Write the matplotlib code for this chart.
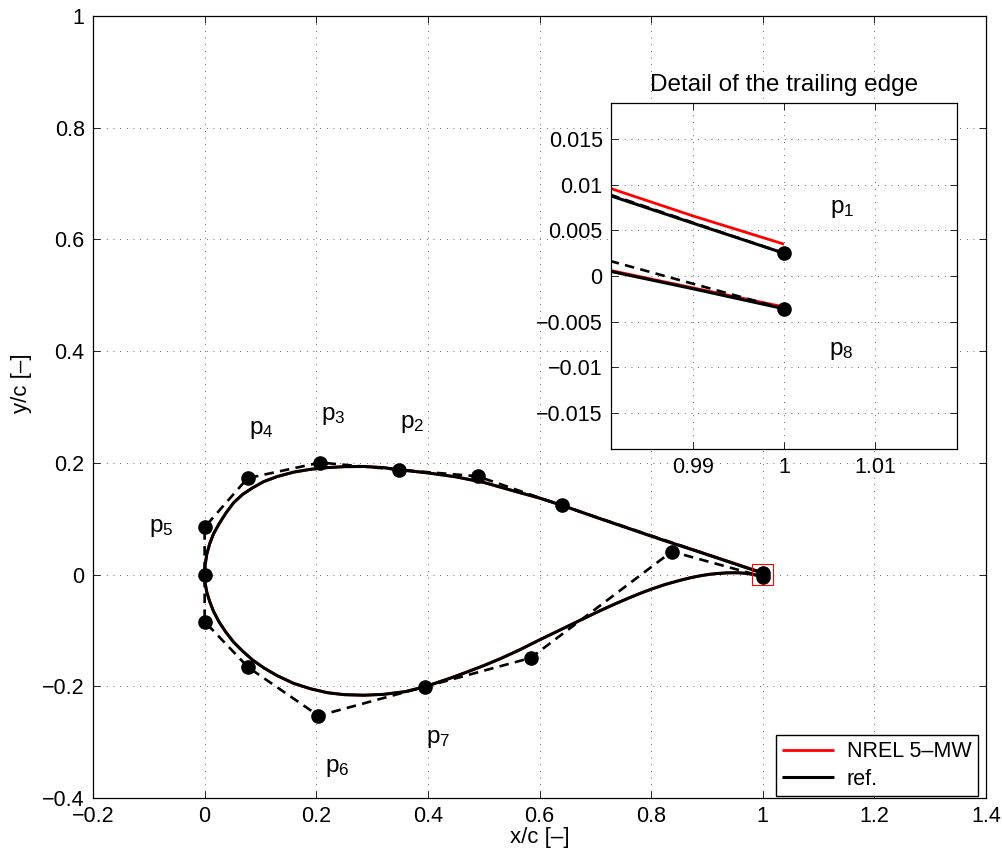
import matplotlib
matplotlib.use("Agg")
import matplotlib.pyplot as plt
from matplotlib.patches import Rectangle
from matplotlib.ticker import FuncFormatter

plt.rcParams['font.family'] = ['Liberation Sans', 'DejaVu Sans']
plt.rcParams['mathtext.default'] = 'regular'

# Upper surface, leading edge -> trailing edge
up_x = [0.0, 0.001, 0.004, 0.009, 0.016, 0.026, 0.038, 0.052, 0.068, 0.086,
        0.106, 0.13, 0.16, 0.19, 0.22, 0.25, 0.285, 0.32, 0.349, 0.40,
        0.45, 0.50, 0.56, 0.60, 0.641, 0.70, 0.76, 0.82, 0.88, 0.93,
        0.96, 0.981, 0.99, 1.0]
ref_up_y = [0.0, 0.018, 0.037, 0.055, 0.073, 0.091, 0.110, 0.1286, 0.1435, 0.1553,
            0.1665, 0.1755, 0.1835, 0.1885, 0.1915, 0.1932, 0.1935, 0.1915, 0.1876, 0.1820,
            0.1750, 0.1650, 0.1480, 0.1370, 0.1237, 0.1030, 0.0825, 0.0620, 0.0425, 0.0258,
            0.0158, 0.0088, 0.0058, 0.0025]
nrel_up_y = [0.0, 0.018, 0.037, 0.055, 0.073, 0.091, 0.110, 0.1286, 0.1435, 0.1553,
             0.1665, 0.1755, 0.1835, 0.1885, 0.1915, 0.1932, 0.1935, 0.1915, 0.1876, 0.1820,
             0.1750, 0.1650, 0.1480, 0.1370, 0.1237, 0.1032, 0.0828, 0.0624, 0.0430, 0.0265,
             0.0165, 0.0096, 0.0066, 0.0035]

# Lower surface, leading edge -> trailing edge
lo_x = [0.0, 0.001, 0.004, 0.009, 0.016, 0.026, 0.038, 0.052, 0.068, 0.086,
        0.106, 0.13, 0.16, 0.19, 0.22, 0.25, 0.285, 0.32, 0.36, 0.395,
        0.44, 0.47, 0.50, 0.53, 0.565, 0.60, 0.63, 0.66, 0.685, 0.71,
        0.735, 0.76, 0.78, 0.80, 0.825, 0.85, 0.87, 0.889, 0.905, 0.92,
        0.935, 0.949, 0.96, 0.97, 0.981, 0.99, 1.0]
ref_lo_y = [0.0, -0.016, -0.032, -0.048, -0.066, -0.085, -0.103, -0.121, -0.137, -0.153,
            -0.167, -0.181, -0.195, -0.2045, -0.2115, -0.2150, -0.2160, -0.2145, -0.2095, -0.2007,
            -0.1855, -0.1745, -0.1630, -0.1505, -0.1345, -0.1170, -0.1025, -0.0880, -0.0760, -0.0640,
            -0.0527, -0.0420, -0.0338, -0.0262, -0.0178, -0.0108, -0.0058, -0.0020, 0.0005, 0.0020,
            0.0030, 0.0033, 0.0030, 0.0022, 0.0005, -0.0014, -0.0036]
nrel_lo_y = [0.0, -0.016, -0.032, -0.048, -0.066, -0.085, -0.103, -0.121, -0.137, -0.153,
             -0.167, -0.181, -0.195, -0.2045, -0.2115, -0.2150, -0.2160, -0.2145, -0.2095, -0.2007,
             -0.1855, -0.1745, -0.1630, -0.1505, -0.1345, -0.1170, -0.1025, -0.0880, -0.0760, -0.0640,
             -0.0527, -0.0420, -0.0338, -0.0262, -0.0178, -0.0108, -0.0058, -0.0020, 0.0005, 0.0020,
             0.0030, 0.0033, 0.0030, 0.0023, 0.0006, -0.0013, -0.0034]

# Bezier control polygon (upper TE -> LE -> lower TE)
ctrl_x = [1.0, 0.640, 0.489, 0.349, 0.207, 0.077, 0.0, 0.0, 0.0, 0.078, 0.204, 0.395, 0.584, 0.837, 1.0]
ctrl_y = [0.0025, 0.1237, 0.176, 0.1876, 0.2005, 0.1726, 0.0848, 0.0, -0.0842, -0.166,
          -0.2527, -0.2007, -0.1493, 0.0412, -0.0036]

# Design point labels
lab_main = ['p$_2$', 'p$_3$', 'p$_4$', 'p$_5$', 'p$_6$', 'p$_7$']
lab_main_x = [0.372, 0.231, 0.102, -0.078, 0.238, 0.418]
lab_main_y = [0.270, 0.284, 0.258, 0.084, -0.346, -0.294]
lab_inset = ['p$_1$', 'p$_8$']
lab_inset_x = [1.0064, 1.0063]
lab_inset_y = [0.0074, -0.0082]

# trailing edge window
te_x0, te_x1 = 0.981, 1.019
te_y0, te_y1 = -0.019, 0.019


def fmt(v, _):
    s = f'{v:g}'
    return s.replace('-', '\u2212')


def draw_airfoil(ax):
    ax.plot(up_x, nrel_up_y, color='red', lw=2.0, label='NREL 5\u2013MW', solid_capstyle='butt')
    ax.plot(lo_x, nrel_lo_y, color='red', lw=2.0, solid_capstyle='butt')
    ax.plot(up_x, ref_up_y, color='black', lw=2.2, label='ref.', solid_capstyle='butt')
    ax.plot(lo_x, ref_lo_y, color='black', lw=2.2, solid_capstyle='butt')
    ax.plot(ctrl_x, ctrl_y, color='black', lw=1.9, linestyle='--', dashes=(3.6, 2.4),
            marker='o', markersize=9.5, markerfacecolor='black', markeredgecolor='black')


def style_axes(ax):
    ax.grid(True, linestyle=(0, (1, 7)), color='0.2', linewidth=0.6)
    ax.tick_params(direction='in', top=True, right=True, length=5, width=0.6,
                   labelsize=15.5, pad=6)
    for s in ax.spines.values():
        s.set_linewidth(0.9)
    ax.xaxis.set_major_formatter(FuncFormatter(fmt))
    ax.yaxis.set_major_formatter(FuncFormatter(fmt))


fig = plt.figure(figsize=(10.03, 8.56), dpi=100)

ax = fig.add_axes([93 / 1003, 58 / 856, 893 / 1003, 782 / 856])
draw_airfoil(ax)
ax.add_patch(Rectangle((te_x0, te_y0), te_x1 - te_x0, te_y1 - te_y0,
                       fill=False, edgecolor='red', lw=0.8, zorder=5))
for t, x, y in zip(lab_main, lab_main_x, lab_main_y):
    ax.text(x, y, t, fontsize=17.5, ha='center', va='center')
ax.set_xlim(-0.2, 1.4)
ax.set_ylim(-0.4, 1.0)
ax.set_xticks([-0.2, 0, 0.2, 0.4, 0.6, 0.8, 1.0, 1.2, 1.4])
ax.set_yticks([-0.4, -0.2, 0, 0.2, 0.4, 0.6, 0.8, 1.0])
style_axes(ax)
ax.set_xlabel('x/c [\u2013]', fontsize=16)
ax.set_ylabel('y/c [\u2013]', fontsize=16)
ax.xaxis.set_label_coords(0.5, -0.037)
ax.yaxis.set_label_coords(-0.068, 0.53)
ax.legend(loc='lower right', bbox_to_anchor=(978 / 1003, 60 / 856),
          bbox_transform=fig.transFigure, borderaxespad=0, fontsize=15.5,
          fancybox=False, edgecolor='black', framealpha=1, handlelength=2.4,
          borderpad=0.3, labelspacing=0.3, handletextpad=0.6)

# trailing edge detail
axi = fig.add_axes([611 / 1003, 407 / 856, 346 / 1003, 346 / 856])
draw_airfoil(axi)
for t, x, y in zip(lab_inset, lab_inset_x, lab_inset_y):
    axi.text(x, y, t, fontsize=17.5, ha='center', va='center')
axi.set_xlim(te_x0, te_x1)
axi.set_ylim(te_y0, te_y1)
axi.set_xticks([0.99, 1.0, 1.01])
axi.set_yticks([-0.015, -0.01, -0.005, 0, 0.005, 0.01, 0.015])
style_axes(axi)
axi.set_title('Detail of the trailing edge', fontsize=17.5, pad=9)

fig.savefig('out.png', dpi=100)
